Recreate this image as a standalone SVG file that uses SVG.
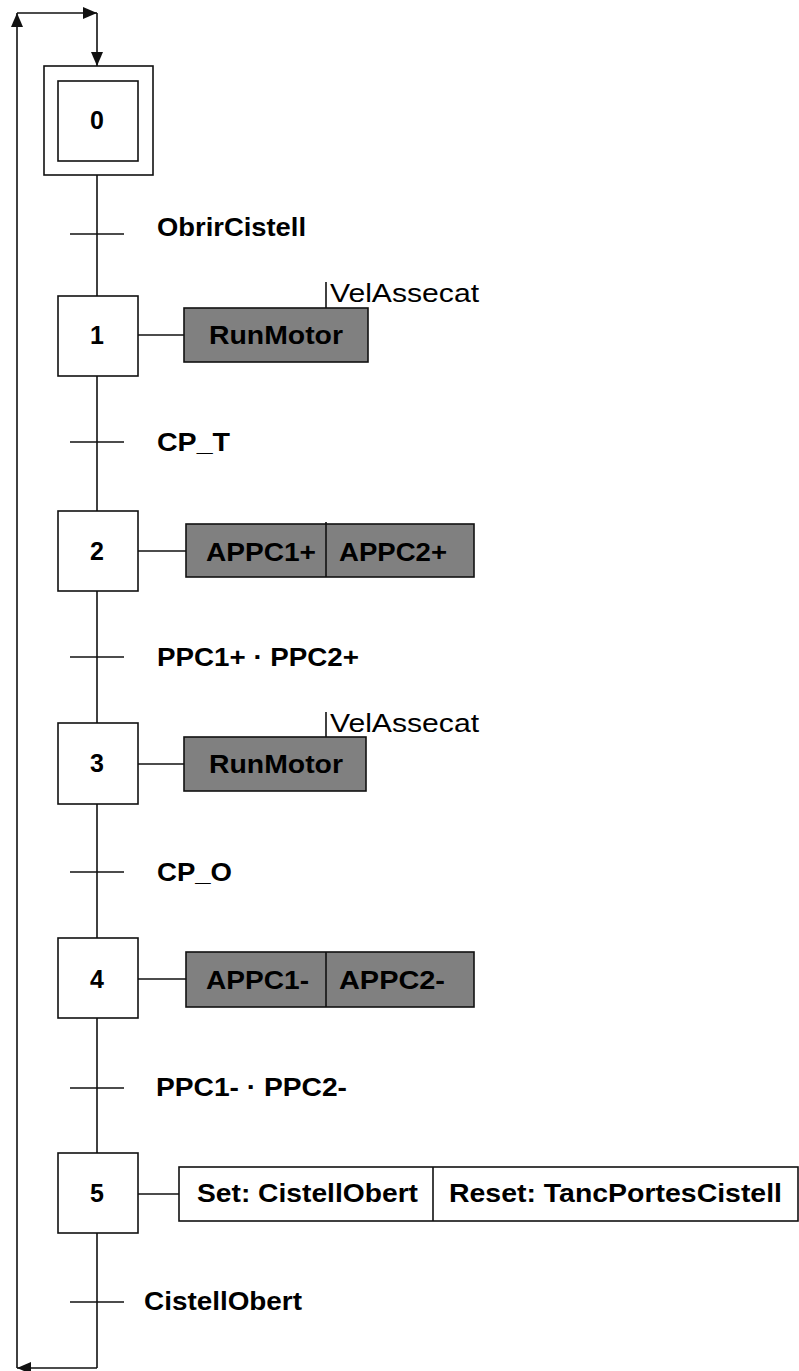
<svg xmlns="http://www.w3.org/2000/svg" width="799" height="1371" viewBox="0 0 799 1371">
  <defs>
    <style>
      .ln { stroke: #111; stroke-width: 1.6; fill: none; }
      .step { fill: #fff; stroke: #111; stroke-width: 1.6; }
      .act { fill: #808080; stroke: #111; stroke-width: 1.6; }
      .actw { fill: #fff; stroke: #111; stroke-width: 1.6; }
      .t { font-family: "Liberation Sans", Arial, sans-serif; font-size: 25px; font-weight: bold; fill: #000; }
      .tn { font-family: "Liberation Sans", Arial, sans-serif; font-size: 25px; font-weight: normal; fill: #000; }
      .num { text-anchor: middle; }
    </style>
    <marker id="ah" viewBox="0 0 14 12" refX="14" refY="6" markerWidth="14" markerHeight="12" markerUnits="userSpaceOnUse" orient="auto">
      <path d="M0,0 L14,6 L0,12 Z" fill="#111"/>
    </marker>
  </defs>

  <rect width="799" height="1371" fill="#fff"/>

  <!-- connectors: main chain, transitions and loop-back -->
  <g id="connectors">
    <line class="ln" x1="97" y1="175" x2="97" y2="1368"/>
    <path class="ln" d="M97,1368 H17" marker-end="url(#ah)"/>
    <path class="ln" d="M17,1368 V13" marker-end="url(#ah)"/>
    <path class="ln" d="M17,13 H97" marker-end="url(#ah)"/>
    <path class="ln" d="M97,13 V66" marker-end="url(#ah)"/>
    <!-- transition bars -->
    <line class="ln" x1="70" y1="234" x2="124" y2="234"/>
    <line class="ln" x1="70" y1="442" x2="124" y2="442"/>
    <line class="ln" x1="70" y1="657" x2="124" y2="657"/>
    <line class="ln" x1="70" y1="872" x2="124" y2="872"/>
    <line class="ln" x1="70" y1="1088" x2="124" y2="1088"/>
    <line class="ln" x1="70" y1="1302" x2="124" y2="1302"/>
    <!-- step-to-action links -->
    <line class="ln" x1="138" y1="335" x2="184" y2="335"/>
    <line class="ln" x1="138" y1="551" x2="186" y2="551"/>
    <line class="ln" x1="138" y1="764" x2="184" y2="764"/>
    <line class="ln" x1="138" y1="979" x2="186" y2="979"/>
    <line class="ln" x1="138" y1="1194" x2="179" y2="1194"/>
  </g>

  <!-- transition conditions -->
  <g id="transitions">
    <text class="t" x="157" y="236" textLength="149" lengthAdjust="spacingAndGlyphs">ObrirCistell</text>
    <text class="t" x="157" y="451" textLength="73" lengthAdjust="spacingAndGlyphs">CP_T</text>
    <text class="t" x="157" y="666" textLength="202" lengthAdjust="spacingAndGlyphs">PPC1+ · PPC2+</text>
    <text class="t" x="157" y="881" textLength="75" lengthAdjust="spacingAndGlyphs">CP_O</text>
    <text class="t" x="156" y="1096" textLength="191" lengthAdjust="spacingAndGlyphs">PPC1- · PPC2-</text>
    <text class="t" x="144" y="1310" textLength="158" lengthAdjust="spacingAndGlyphs">CistellObert</text>
  </g>

  <g id="step0">
    <rect class="step" x="44" y="66" width="109" height="109"/>
    <rect class="step" x="58" y="81" width="80" height="80"/>
    <text class="t num" x="97" y="129">0</text>
  </g>

  <g id="step1">
    <rect class="step" x="58" y="296" width="80" height="80"/>
    <text class="t num" x="97" y="344">1</text>
  </g>
  <g id="action1">
    <rect class="act" x="184" y="308" width="184" height="54"/>
    <line class="ln" x1="326" y1="282" x2="326" y2="308"/>
    <text class="tn" x="330" y="302" textLength="149" lengthAdjust="spacingAndGlyphs">VelAssecat</text>
    <text class="t" x="209" y="344" textLength="134" lengthAdjust="spacingAndGlyphs">RunMotor</text>
  </g>

  <g id="step2">
    <rect class="step" x="58" y="511" width="80" height="80"/>
    <text class="t num" x="97" y="560">2</text>
  </g>
  <g id="action2">
    <rect class="act" x="186" y="524" width="288" height="53"/>
    <line class="ln" x1="326" y1="522" x2="326" y2="577"/>
    <text class="t" x="206" y="561" textLength="110" lengthAdjust="spacingAndGlyphs">APPC1+</text>
    <text class="t" x="339" y="561" textLength="108" lengthAdjust="spacingAndGlyphs">APPC2+</text>
  </g>

  <g id="step3">
    <rect class="step" x="58" y="723" width="80" height="81"/>
    <text class="t num" x="97" y="772">3</text>
  </g>
  <g id="action3">
    <rect class="act" x="184" y="737" width="182" height="54"/>
    <line class="ln" x1="326" y1="712" x2="326" y2="737"/>
    <text class="tn" x="330" y="732" textLength="149" lengthAdjust="spacingAndGlyphs">VelAssecat</text>
    <text class="t" x="209" y="773" textLength="134" lengthAdjust="spacingAndGlyphs">RunMotor</text>
  </g>

  <g id="step4">
    <rect class="step" x="58" y="938" width="80" height="80"/>
    <text class="t num" x="97" y="988">4</text>
  </g>
  <g id="action4">
    <rect class="act" x="186" y="952" width="288" height="55"/>
    <line class="ln" x1="326" y1="952" x2="326" y2="1007"/>
    <text class="t" x="206" y="989" textLength="103" lengthAdjust="spacingAndGlyphs">APPC1-</text>
    <text class="t" x="339" y="989" textLength="106" lengthAdjust="spacingAndGlyphs">APPC2-</text>
  </g>

  <g id="step5">
    <rect class="step" x="58" y="1153" width="80" height="80"/>
    <text class="t num" x="97" y="1202">5</text>
  </g>
  <g id="action5">
    <rect class="actw" x="179" y="1167" width="619" height="54"/>
    <line class="ln" x1="433" y1="1167" x2="433" y2="1221"/>
    <text class="t" x="197" y="1202" textLength="221" lengthAdjust="spacingAndGlyphs">Set: CistellObert</text>
    <text class="t" x="449" y="1202" textLength="333" lengthAdjust="spacingAndGlyphs">Reset: TancPortesCistell</text>
  </g>
</svg>
